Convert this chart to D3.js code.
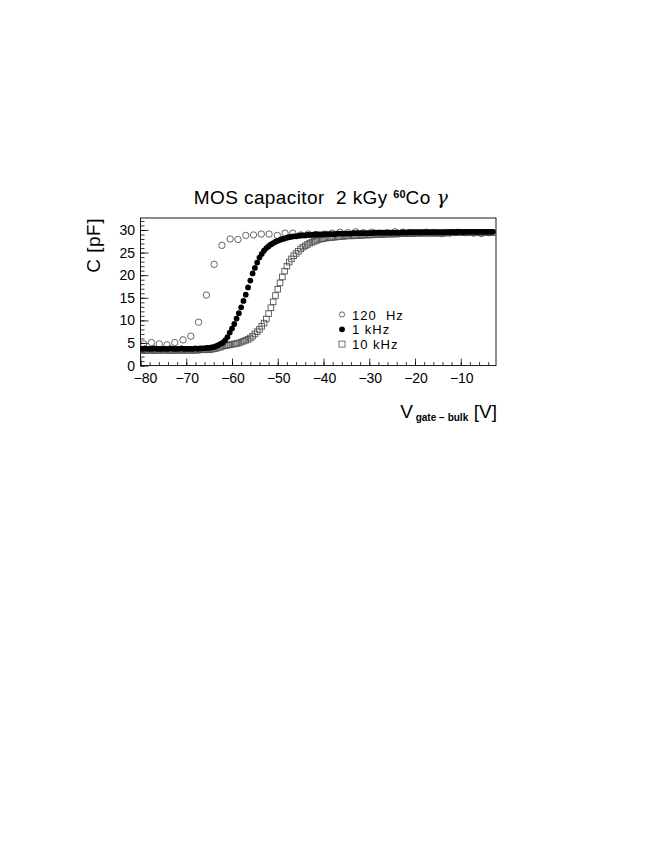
<!DOCTYPE html>
<html>
<head>
<meta charset="utf-8">
<script src="https://cdn.jsdelivr.net/npm/d3@7"></script>
<style>
  body { margin: 0; background: #fff; }
  svg { display: block; }
  text { font-family: "Liberation Sans", Arial, sans-serif; fill: #000; }
</style>
</head>
<body>
<div id="chart"></div>
<script>
// 120 Hz sweep (coarse steps)
var volts120 = [-79.3, -77.6, -75.9, -74.2, -72.5, -70.7, -69.0, -67.3, -65.6, -63.9,
  -62.2, -60.4, -58.7, -57.0, -55.3, -53.6, -51.9, -50.1, -48.4, -46.7,
  -45.0, -43.3, -41.6, -39.8, -38.1, -36.4, -34.7, -33.0, -31.3, -29.5,
  -27.8, -26.1, -24.4, -22.7, -21.0, -19.2, -17.5, -15.8, -14.1, -12.4,
  -10.7, -8.9, -7.2, -5.5, -3.8];
var cap120 = [4.8, 5.1, 4.8, 4.6, 5.1, 5.7, 6.5, 9.6, 15.6, 22.4,
  26.6, 28.0, 27.9, 28.8, 28.9, 29.1, 29.1, 28.8, 29.3, 29.3,
  28.9, 29.1, 29.0, 29.1, 29.3, 29.5, 29.4, 29.6, 29.4, 29.5,
  29.3, 29.4, 29.6, 29.5, 29.4, 29.3, 29.5, 29.4, 29.2, 29.3,
  29.5, 29.4, 29.3, 29.2, 29.4];

// 1 kHz and 10 kHz sweeps (0.5 V steps), 10 values per row = 5 V
var voltsFine = [
  -80, -79.5, -79, -78.5, -78, -77.5, -77, -76.5, -76, -75.5,
  -75, -74.5, -74, -73.5, -73, -72.5, -72, -71.5, -71, -70.5,
  -70, -69.5, -69, -68.5, -68, -67.5, -67, -66.5, -66, -65.5,
  -65, -64.5, -64, -63.5, -63, -62.5, -62, -61.5, -61, -60.5,
  -60, -59.5, -59, -58.5, -58, -57.5, -57, -56.5, -56, -55.5,
  -55, -54.5, -54, -53.5, -53, -52.5, -52, -51.5, -51, -50.5,
  -50, -49.5, -49, -48.5, -48, -47.5, -47, -46.5, -46, -45.5,
  -45, -44.5, -44, -43.5, -43, -42.5, -42, -41.5, -41, -40.5,
  -40, -39.5, -39, -38.5, -38, -37.5, -37, -36.5, -36, -35.5,
  -35, -34.5, -34, -33.5, -33, -32.5, -32, -31.5, -31, -30.5,
  -30, -29.5, -29, -28.5, -28, -27.5, -27, -26.5, -26, -25.5,
  -25, -24.5, -24, -23.5, -23, -22.5, -22, -21.5, -21, -20.5,
  -20, -19.5, -19, -18.5, -18, -17.5, -17, -16.5, -16, -15.5,
  -15, -14.5, -14, -13.5, -13, -12.5, -12, -11.5, -11, -10.5,
  -10, -9.5, -9, -8.5, -8, -7.5, -7, -6.5, -6, -5.5,
  -5, -4.5, -4, -3.5, -3];
var cap1k = [
  3.7, 3.7, 3.8, 3.7, 3.7, 3.7, 3.8, 3.7, 3.7, 3.7,
  3.7, 3.7, 3.7, 3.8, 3.7, 3.7, 3.7, 3.7, 3.8, 3.7,
  3.7, 3.7, 3.7, 3.7, 3.8, 3.7, 3.8, 3.8, 3.8, 3.9,
  3.9, 4.0, 4.1, 4.3, 4.5, 4.8, 5.1, 5.6, 6.3, 7.3,
  8.2, 9.2, 10.4, 11.6, 12.9, 14.3, 15.7, 17.3, 18.8, 20.4,
  21.6, 22.8, 23.9, 24.7, 25.4, 26.0, 26.4, 26.8, 27.1, 27.4,
  27.6, 27.8, 28.0, 28.1, 28.3, 28.4, 28.5, 28.6, 28.6, 28.7,
  28.8, 28.8, 28.8, 28.9, 28.9, 28.9, 29.0, 29.0, 29.0, 29.0,
  29.0, 29.1, 29.1, 29.1, 29.1, 29.1, 29.2, 29.2, 29.2, 29.2,
  29.2, 29.2, 29.2, 29.3, 29.3, 29.3, 29.3, 29.3, 29.3, 29.3,
  29.3, 29.3, 29.4, 29.4, 29.4, 29.4, 29.4, 29.4, 29.4, 29.4,
  29.4, 29.4, 29.4, 29.4, 29.4, 29.5, 29.4, 29.5, 29.5, 29.5,
  29.5, 29.5, 29.5, 29.5, 29.5, 29.5, 29.5, 29.5, 29.5, 29.5,
  29.5, 29.5, 29.5, 29.5, 29.5, 29.5, 29.6, 29.5, 29.5, 29.6,
  29.6, 29.5, 29.6, 29.6, 29.6, 29.6, 29.6, 29.6, 29.6, 29.6,
  29.6, 29.6, 29.6, 29.6, 29.6];
var cap10k = [
  3.4, 3.4, 3.3, 3.4, 3.4, 3.4, 3.3, 3.4, 3.4, 3.4,
  3.4, 3.4, 3.4, 3.3, 3.4, 3.4, 3.4, 3.4, 3.4, 3.4,
  3.4, 3.4, 3.4, 3.4, 3.4, 3.4, 3.5, 3.5, 3.5, 3.5,
  3.5, 3.6, 3.7, 3.8, 4.0, 4.1, 4.3, 4.4, 4.5, 4.6,
  4.7, 4.8, 4.9, 5.0, 5.2, 5.4, 5.6, 5.8, 6.1, 6.5,
  7.0, 7.5, 8.0, 8.7, 9.4, 10.3, 11.5, 12.8, 14.1, 15.5,
  16.9, 18.3, 19.6, 20.9, 22.0, 22.9, 23.6, 24.3, 24.8, 25.3,
  25.8, 26.2, 26.5, 26.8, 27.1, 27.3, 27.5, 27.7, 27.9, 28.0,
  28.1, 28.2, 28.3, 28.3, 28.4, 28.4, 28.5, 28.5, 28.6, 28.6,
  28.7, 28.7, 28.7, 28.7, 28.8, 28.8, 28.8, 28.8, 28.9, 28.9,
  28.9, 28.9, 29.0, 29.0, 29.0, 29.0, 29.0, 29.1, 29.1, 29.1,
  29.1, 29.1, 29.1, 29.2, 29.2, 29.2, 29.2, 29.2, 29.2, 29.2,
  29.3, 29.3, 29.3, 29.3, 29.3, 29.3, 29.3, 29.3, 29.3, 29.3,
  29.3, 29.3, 29.3, 29.3, 29.4, 29.4, 29.4, 29.4, 29.4, 29.4,
  29.4, 29.4, 29.4, 29.4, 29.4, 29.4, 29.4, 29.4, 29.4, 29.4,
  29.4, 29.4, 29.4, 29.4, 29.4];

var xMajorTicks = [-80, -70, -60, -50, -40, -30, -20, -10];
var yMajorTicks = [0, 5, 10, 15, 20, 25, 30];
var legendLabels = ['120  Hz', '1 kHz', '10 kHz'];

var WIDTH = 654, HEIGHT = 846;
var FRAME = { left: 140.5, right: 496, top: 218, bottom: 365.6 };
var X_DOMAIN = [-80, -2.3];
var Y_DOMAIN = [0, 32.65];
var TICK_FONT = 14;

var svg = d3.select('#chart').append('svg')
  .attr('width', WIDTH)
  .attr('height', HEIGHT);

var x = d3.scaleLinear().domain(X_DOMAIN).range([FRAME.left, FRAME.right]);
var y = d3.scaleLinear().domain(Y_DOMAIN).range([FRAME.bottom, FRAME.top]);

svg.append('clipPath').attr('id', 'plotclip')
  .append('rect')
  .attr('x', FRAME.left).attr('y', FRAME.top)
  .attr('width', FRAME.right - FRAME.left)
  .attr('height', FRAME.bottom - FRAME.top);

/** axes: ROOT style, ticks pointing inward */
var xAxisMinor = d3.axisTop(x)
  .tickValues(d3.range(-80, -2, 2))
  .tickSize(3.5).tickFormat('');
var xAxisMajor = d3.axisTop(x)
  .tickValues(xMajorTicks)
  .tickSize(7).tickFormat('');
var yAxisMinor = d3.axisRight(y)
  .tickValues(d3.range(0, 33, 1))
  .tickSize(4).tickFormat('');
var yAxisMajor = d3.axisRight(y)
  .tickValues(yMajorTicks)
  .tickSize(8).tickFormat('');

[xAxisMinor, xAxisMajor].forEach(function (ax) {
  svg.append('g')
    .attr('transform', 'translate(0,' + FRAME.bottom + ')')
    .call(ax)
    .call(function (g) { g.select('.domain').remove(); })
    .selectAll('line').attr('stroke', '#000').attr('stroke-width', 0.8);
});
[yAxisMinor, yAxisMajor].forEach(function (ax) {
  svg.append('g')
    .attr('transform', 'translate(' + FRAME.left + ',0)')
    .call(ax)
    .call(function (g) { g.select('.domain').remove(); })
    .selectAll('line').attr('stroke', '#000').attr('stroke-width', 0.8);
});

// tick labels (first x label nudged right, as in the original, to clear the "0")
svg.append('g').selectAll('text').data(xMajorTicks).enter().append('text')
  .attr('x', function (d, i) { return x(d) + (i === 0 ? 5 : 1); })
  .attr('y', 383)
  .attr('text-anchor', 'middle')
  .attr('font-size', TICK_FONT)
  .text(function (d) { return '\u2212' + Math.abs(d); });
svg.append('g').selectAll('text').data(yMajorTicks).enter().append('text')
  .attr('x', 135)
  .attr('y', function (d) { return y(d) + 5; })
  .attr('text-anchor', 'end')
  .attr('font-size', TICK_FONT)
  .text(function (d) { return d; });

// frame
svg.append('rect')
  .attr('x', FRAME.left).attr('y', FRAME.top)
  .attr('width', FRAME.right - FRAME.left)
  .attr('height', FRAME.bottom - FRAME.top)
  .attr('fill', 'none').attr('stroke', '#000').attr('stroke-width', 0.9);

/** data markers */
var plot = svg.append('g').attr('clip-path', 'url(#plotclip)');
var SQ = 5.6;

plot.append('g').selectAll('rect').data(voltsFine).enter().append('rect')
  .attr('x', function (d) { return x(d) - SQ / 2; })
  .attr('y', function (d, i) { return y(cap10k[i]) - SQ / 2; })
  .attr('width', SQ).attr('height', SQ)
  .attr('fill', 'none').attr('stroke', '#555').attr('stroke-width', 0.9);

plot.append('g').selectAll('circle').data(volts120).enter().append('circle')
  .attr('cx', function (d) { return x(d); })
  .attr('cy', function (d, i) { return y(cap120[i]); })
  .attr('r', 3.2)
  .attr('fill', 'none').attr('stroke', '#555').attr('stroke-width', 0.9);

plot.append('g').selectAll('circle').data(voltsFine).enter().append('circle')
  .attr('cx', function (d) { return x(d); })
  .attr('cy', function (d, i) { return y(cap1k[i]); })
  .attr('r', 2.9)
  .attr('fill', '#000');

/** legend */
var legend = svg.append('g').selectAll('g').data(legendLabels).enter().append('g')
  .attr('transform', function (d, i) { return 'translate(342,' + (314.5 + i * 14.8) + ')'; });
legend.each(function (d, i) {
  var g = d3.select(this);
  if (i === 0) {
    g.append('circle').attr('r', 2.6).attr('fill', 'none')
      .attr('stroke', '#555').attr('stroke-width', 0.9);
  } else if (i === 1) {
    g.append('circle').attr('r', 2.9).attr('fill', '#000');
  } else {
    g.append('rect').attr('x', -3).attr('y', -3).attr('width', 6).attr('height', 6)
      .attr('fill', 'none').attr('stroke', '#555').attr('stroke-width', 0.8);
  }
  g.append('text').attr('x', 10).attr('y', 5).attr('font-size', 13)
    .attr('letter-spacing', 1)
    .style('white-space', 'pre')
    .text(d);
});

/** titles */
var title = svg.append('text')
  .attr('x', 321).attr('y', 204)
  .attr('text-anchor', 'middle')
  .attr('font-size', 19)
  .attr('letter-spacing', 0.4)
  .style('white-space', 'pre');
title.append('tspan').text('MOS capacitor  2 kGy ');
title.append('tspan').attr('dy', -6).attr('font-size', 11).attr('font-weight', 'bold').attr('letter-spacing', 0).text('60');
title.append('tspan').attr('dy', 6).text('Co ');
title.append('tspan').attr('font-style', 'italic').attr('font-family', 'DejaVu Serif, serif').text('\u03b3');

svg.append('text')
  .attr('transform', 'translate(100,218) rotate(-90)')
  .attr('text-anchor', 'end')
  .attr('font-size', 19)
  .attr('letter-spacing', 0.5)
  .style('white-space', 'pre')
  .text('C [pF]');

var xLabel = svg.append('text')
  .attr('x', 497).attr('y', 418)
  .attr('text-anchor', 'end')
  .attr('font-size', 19)
  .style('white-space', 'pre');
xLabel.append('tspan').text('V');
xLabel.append('tspan').attr('dy', 3).attr('font-size', 10).attr('font-weight', 'bold').text(' gate \u2212 bulk  ');
xLabel.append('tspan').attr('dy', -3).text('[V]');
</script>
</body>
</html>
